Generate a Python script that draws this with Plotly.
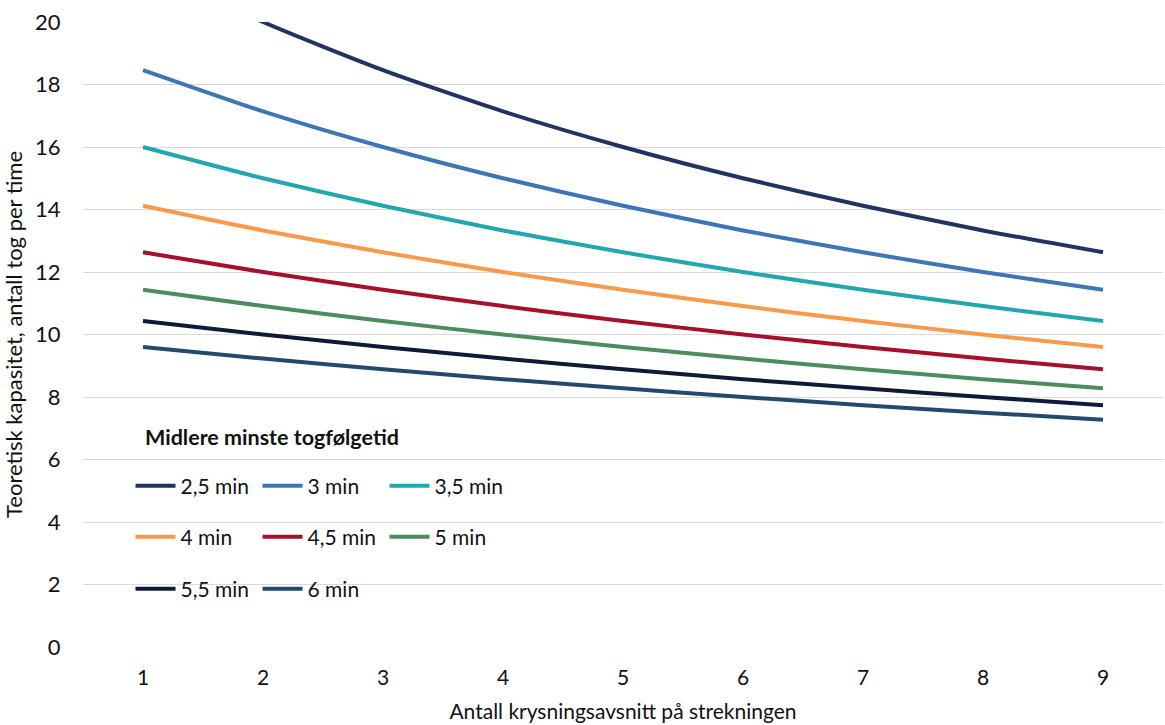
import plotly.graph_objects as go

# Antall krysningsavsnitt (x-axis categories)
sections = [1, 2, 3, 4, 5, 6, 7, 8, 9]

# Theoretical capacity (trains per hour) for each mean minimum headway
cap_2_5 = [21.82, 20.00, 18.46, 17.14, 16.00, 15.00, 14.12, 13.33, 12.63]
cap_3_0 = [18.46, 17.14, 16.00, 15.00, 14.12, 13.33, 12.63, 12.00, 11.43]
cap_3_5 = [16.00, 15.00, 14.12, 13.33, 12.63, 12.00, 11.43, 10.91, 10.43]
cap_4_0 = [14.12, 13.33, 12.63, 12.00, 11.43, 10.91, 10.43, 10.00, 9.60]
cap_4_5 = [12.63, 12.00, 11.43, 10.91, 10.43, 10.00, 9.60, 9.23, 8.89]
cap_5_0 = [11.43, 10.91, 10.43, 10.00, 9.60, 9.23, 8.89, 8.57, 8.28]
cap_5_5 = [10.43, 10.00, 9.60, 9.23, 8.89, 8.57, 8.28, 8.00, 7.74]
cap_6_0 = [9.60, 9.23, 8.89, 8.57, 8.28, 8.00, 7.74, 7.50, 7.27]

series_names = ["2,5 min", "3 min", "3,5 min", "4 min", "4,5 min",
                "5 min", "5,5 min", "6 min"]
series_values = [cap_2_5, cap_3_0, cap_3_5, cap_4_0, cap_4_5,
                 cap_5_0, cap_5_5, cap_6_0]
series_colors = ["#1F3461", "#3D76B6", "#22A7B0", "#F89A4A", "#A6102C",
                 "#4B8D5E", "#0E1A38", "#24496F"]
# three legend rows of 3, 3 and 2 entries
series_legend = ["legend", "legend", "legend", "legend2", "legend2",
                 "legend2", "legend3", "legend3"]

y_ticks = [0, 2, 4, 6, 8, 10, 12, 14, 16, 18, 20]

FONT = "Lato"
TXT = "#111111"

fig = go.Figure()
for name, vals, col, lg in zip(series_names, series_values, series_colors, series_legend):
    fig.add_trace(go.Scatter(
        x=sections, y=vals, name=name, mode="lines",
        line=dict(color=col, width=4, shape="spline", smoothing=0.6),
        legend=lg,
    ))

legend_common = dict(
    orientation="h", xanchor="left", yanchor="middle",
    font=dict(family=FONT, size=21, color=TXT),
    bgcolor="rgba(0,0,0,0)", entrywidthmode="pixels", entrywidth=72,
    itemwidth=40, tracegroupgap=0,
)

fig.update_layout(
    width=1165, height=725,
    margin=dict(l=83, r=2, t=22, b=78),
    paper_bgcolor="white", plot_bgcolor="white",
    font=dict(family=FONT, size=21, color=TXT),
    xaxis=dict(
        range=[0.5, 9.5], tickvals=sections, ticktext=[str(s) for s in sections],
        showgrid=False, zeroline=False, showline=False,
        ticks="outside", ticklen=12, tickcolor="rgba(0,0,0,0)",
        tickfont=dict(family=FONT, size=21, color=TXT),
        title=dict(text="Antall krysningsavsnitt på strekningen",
                   font=dict(family=FONT, size=21, color=TXT), standoff=16),
    ),
    yaxis=dict(
        range=[0, 20], tickvals=y_ticks,
        showgrid=True, gridcolor="#D9D9D9", gridwidth=1,
        zeroline=False, showline=False,
        ticks="outside", ticklen=17, tickcolor="rgba(0,0,0,0)",
        tickfont=dict(family=FONT, size=22, color=TXT),
        title=dict(text="Teoretisk kapasitet, antall tog per time",
                   font=dict(family=FONT, size=22, color=TXT), standoff=12),
    ),
    legend=dict(x=0.044, y=0.2576, **legend_common),
    legend2=dict(x=0.044, y=0.176, **legend_common),
    legend3=dict(x=0.044, y=0.0928, **legend_common),
    annotations=[dict(
        text="<b>Midlere minste togfølgetid</b>", x=0.056, y=0.336,
        xref="paper", yref="paper", xanchor="left", yanchor="middle",
        showarrow=False, font=dict(family=FONT, size=21.5, color=TXT),
    )],
)

fig.write_html("out.html")
